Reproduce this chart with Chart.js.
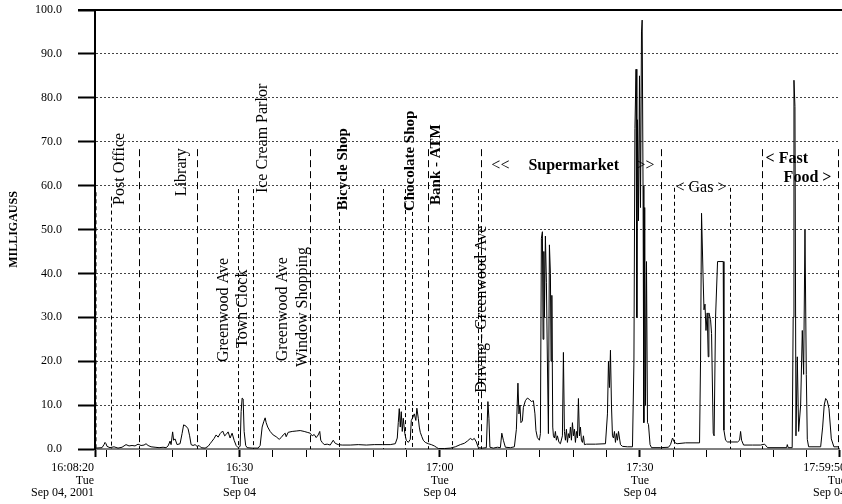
<!DOCTYPE html>
<html>
<head>
<meta charset="utf-8">
<script src="https://cdn.jsdelivr.net/npm/chart.js@4.4.0/dist/chart.umd.min.js"></script>
<style>
  html, body { margin: 0; padding: 0; background: #fff; overflow: hidden; }
  #wrap { width: 880px; height: 504px; }
</style>
</head>
<body>
<div id="wrap"><canvas id="emfChart" width="880" height="504"></canvas></div>
<script>
// Readings: seconds after 16:00:00, value in milligauss
const times = [
  500, 509, 563, 581, 590, 599, 608, 635, 671, 707, 743, 761, 779, 806, 833, 860, 887, 914, 941, 959,
  977, 1004, 1040, 1076, 1112, 1139, 1157, 1175, 1184, 1198, 1207, 1220, 1238, 1265, 1283, 1297, 1319, 1337, 1351, 1364,
  1382, 1400, 1418, 1436, 1454, 1490, 1517, 1535, 1553, 1571, 1589, 1607, 1625, 1648, 1666, 1679, 1697, 1715, 1733, 1751,
  1769, 1787, 1805, 1814, 1823, 1832, 1841, 1855, 1868, 1913, 1967, 1985, 2003, 2017, 2030, 2039, 2053, 2075, 2102, 2129,
  2156, 2174, 2192, 2210, 2219, 2237, 2273, 2309, 2345, 2381, 2408, 2435, 2453, 2471, 2489, 2507, 2521, 2530, 2543, 2561,
  2588, 2615, 2642, 2660, 2687, 2723, 2795, 2867, 2939, 3011, 3083, 3155, 3200, 3218, 3227, 3236, 3245, 3254, 3263, 3272,
  3286, 3299, 3317, 3335, 3344, 3358, 3371, 3385, 3394, 3407, 3416, 3425, 3439, 3452, 3470, 3497, 3524, 3551, 3569, 3587,
  3641, 3695, 3740, 3785, 3821, 3848, 3875, 3893, 3911, 3929, 3947, 3983, 4019, 4033, 4042, 4051, 4082, 4118, 4145, 4158,
  4172, 4190, 4235, 4271, 4289, 4303, 4312, 4321, 4330, 4343, 4352, 4370, 4388, 4406, 4424, 4442, 4456, 4465, 4478, 4496,
  4505, 4514, 4523, 4529, 4536, 4541, 4550, 4559, 4568, 4577, 4586, 4595, 4601, 4608, 4616, 4622, 4631, 4640, 4649, 4658,
  4672, 4685, 4703, 4712, 4721, 4730, 4739, 4748, 4757, 4766, 4775, 4784, 4793, 4802, 4811, 4820, 4829, 4838, 4847, 4856,
  4865, 4874, 4883, 4892, 4901, 4919, 5000, 5090, 5108, 5117, 5126, 5135, 5144, 5153, 5162, 5171, 5180, 5189, 5198, 5207,
  5216, 5225, 5243, 5288, 5333, 5346, 5355, 5365, 5372, 5378, 5387, 5396, 5405, 5414, 5420, 5428, 5435, 5443, 5450, 5459,
  5468, 5477, 5491, 5504, 5585, 5657, 5675, 5693, 5711, 5734, 5810, 5936, 5945, 5954, 5967, 5976, 5985, 5994, 6005, 6014,
  6020, 6035, 6044, 6059, 6067, 6080, 6098, 6149, 6155, 6170, 6188, 6278, 6296, 6305, 6314, 6332, 6413, 6485, 6521, 6548,
  6719, 6725, 6733, 6769, 6778, 6785, 6794, 6803, 6815, 6827, 6845, 6860, 6872, 6884, 6896, 6905, 6917, 7025, 7043, 7057,
  7070, 7084, 7100, 7121, 7144, 7190
];
const milligauss = [
  0.3, 0.2, 0.3, 1.0, 1.5, 1.2, 0.6, 0.3, 0.5, 0.2, 0.4, 0.7, 1.0, 0.7, 0.8, 0.7, 1.1, 0.8, 0.9, 1.2,
  0.8, 0.5, 0.4, 0.3, 0.4, 0.3, 0.7, 1.8, 1.0, 3.9, 2.0, 2.3, 1.0, 1.2, 3.5, 5.5, 5.2, 4.6, 3.0, 1.0,
  0.8, 1.0, 0.6, 0.8, 0.3, 0.2, 0.6, 1.2, 1.8, 2.4, 3.2, 2.7, 3.5, 4.1, 3.0, 3.3, 3.9, 2.5, 3.6, 2.0,
  0.8, 0.3, 0.6, 8.5, 11.6, 11.4, 4.0, 0.8, 0.3, 0.2, 0.2, 0.8, 5.0, 6.2, 7.1, 6.0, 5.0, 4.0, 3.2, 2.8,
  2.2, 2.6, 3.2, 3.6, 2.8, 3.8, 4.0, 4.1, 4.2, 4.0, 3.8, 3.6, 3.0, 3.3, 2.6, 3.2, 4.0, 2.0, 1.5, 1.0,
  1.1, 0.9, 2.0, 1.3, 1.0, 0.9, 0.9, 1.0, 0.9, 1.0, 1.0, 1.0, 1.2, 2.5, 6.0, 9.2, 5.0, 8.5, 4.0, 7.0,
  3.5, 2.0, 1.5, 2.2, 6.5, 7.2, 8.0, 6.5, 9.3, 7.0, 5.0, 3.8, 2.8, 2.0, 1.5, 1.2, 1.0, 0.7, 0.4, 0.1,
  0.1, 0.2, 0.5, 1.0, 1.3, 1.8, 2.4, 2.1, 2.4, 1.6, 0.3, 0.2, 0.3, 10.8, 7.0, 0.4, 0.2, 0.4, 0.3, 3.6,
  2.0, 0.4, 0.3, 0.5, 4.5, 15.0, 8.0, 10.0, 6.0, 6.4, 9.5, 11.0, 11.6, 11.3, 10.8, 11.0, 8.0, 4.2, 2.6, 2.0,
  3.5, 48.0, 49.5, 25.0, 45.0, 30.0, 48.5, 38.0, 20.0, 3.5, 46.5, 40.0, 20.0, 35.0, 5.0, 3.0, 2.5, 4.0, 2.0, 3.0,
  1.5, 1.2, 3.0, 22.0, 4.0, 2.0, 4.5, 1.5, 3.5, 2.5, 5.0, 2.0, 6.0, 3.0, 4.5, 1.5, 4.0, 2.5, 11.5, 3.0,
  5.0, 2.0, 1.5, 3.0, 1.0, 1.1, 1.1, 1.2, 8.0, 20.0, 14.0, 22.5, 10.0, 3.0, 2.5, 4.0, 1.5, 3.5, 2.0, 4.0,
  2.5, 1.0, 0.6, 0.5, 0.5, 20.0, 73.0, 86.5, 30.0, 75.0, 52.0, 85.0, 55.0, 95.0, 97.7, 60.0, 6.0, 55.0, 10.0, 42.7,
  6.0, 5.6, 1.0, 0.3, 0.3, 0.4, 1.0, 2.5, 1.5, 1.2, 1.4, 1.4, 20.0, 53.7, 40.0, 31.7, 33.0, 27.0, 31.0, 21.0,
  31.0, 29.5, 26.3, 3.6, 3.0, 30.0, 42.7, 42.7, 4.3, 2.0, 1.6, 1.6, 2.0, 4.0, 2.0, 0.9, 0.9, 0.9, 1.1, 0.3,
  0.3, 1.0, 0.3, 0.3, 30.0, 84.0, 78.0, 3.0, 21.0, 4.0, 10.0, 27.0, 17.0, 49.9, 17.0, 2.2, 0.5, 0.5, 5.0, 10.0,
  11.5, 11.0, 9.2, 2.3, 0.5, 0.5
];

// X axis: labelled ticks, everything else gets a 5 minute tick mark
const majorTicks = [500, 1800, 3600, 5400, 7190];
const majorLabels = [
  ["16:08:20", "Tue", "Sep 04, 2001"],
  ["16:30", "Tue", "Sep 04"],
  ["17:00", "Tue", "Sep 04"],
  ["17:30", "Tue", "Sep 04"],
  ["17:59:50", "Tue", "Sep 04"]
];

// Location markers (dashed verticals): time and top value
const markerTimes = [500, 641, 896, 1418, 1787, 1922, 2435, 2696, 3092, 3290, 3353, 3497, 3713, 3947, 3974, 5585, 5702, 6206, 6494, 7185];
const markerTops = [58.5, 57.5, 68.3, 68.3, 59.2, 59.2, 68.3, 54.0, 59.2, 59.2, 54.0, 68.3, 59.2, 59.2, 68.3, 68.3, 59.5, 59.5, 68.3, 68.3];

// Vertical (rotated) place names, anchored at the bottom of the text
const siteLabels = ["Post Office", "Library", "Ice Cream Parlor", "Greenwood Ave", "Town Clock", "Greenwood Ave", "Window Shopping", "Bicycle Shop", "Chocolate Shop", "Bank - ATM", "Driving - Greenwood Ave"];
const siteTimes = [725, 1283, 2012, 1661, 1832, 2192, 2372, 2732, 3335, 3569, 3974];
const siteValues = [55.6, 57.6, 58.3, 19.8, 23.0, 20.0, 18.7, 54.4, 54.2, 55.6, 12.8];

// Horizontal area names, anchored at the left of the text
const areaLabels = ["<<", "Supermarket", ">>", "< Gas >", "< Fast", "Food >"];
const areaTimes = [4064, 4397, 5369, 5720, 6530, 6692];
const areaValues = [64.5, 64.5, 64.5, 59.5, 66.1, 61.7];

const boldSites = ["Bicycle Shop", "Chocolate Shop", "Bank - ATM"];
const boldAreas = ["Supermarket", "< Fast", "Food >"];
const SERIF = "'Liberation Serif', 'DejaVu Serif', serif";

// 5 minute tick marks plus the start and end times
const xTickValues = [500];
for (let t = 600; t < 7190; t += 300) xTickValues.push(t);
xTickValues.push(7190);

// Markers & labels plugin
const markerPlugin = {
  id: "markers",
  beforeDatasetsDraw(chart) {
    const { ctx, scales: { x, y } } = chart;
    const y0 = y.getPixelForValue(0);
    ctx.save();
    ctx.strokeStyle = "#000";
    markerTimes.forEach((t, i) => {
      const px = Math.round(x.getPixelForValue(t)) + 0.5;
      ctx.lineWidth = i === 0 ? 2 : 1;
      ctx.setLineDash(markerTops[i] > 65 ? [7, 4] : [4, 3]);
      ctx.beginPath();
      ctx.moveTo(px, y.getPixelForValue(markerTops[i]));
      ctx.lineTo(px, y0);
      ctx.stroke();
    });
    ctx.setLineDash([]);

    ctx.fillStyle = "#000";
    ctx.textBaseline = "middle";
    ctx.textAlign = "left";
    siteLabels.forEach((label, i) => {
      ctx.save();
      ctx.translate(x.getPixelForValue(siteTimes[i]), y.getPixelForValue(siteValues[i]));
      ctx.rotate(-Math.PI / 2);
      ctx.font = (boldSites.includes(label) ? "bold 15px " : "16px ") + SERIF;
      ctx.fillText(label, 0, 0);
      ctx.restore();
    });
    areaLabels.forEach((label, i) => {
      ctx.font = (boldAreas.includes(label) ? "bold 16px " : "16px ") + SERIF;
      ctx.fillText(label, x.getPixelForValue(areaTimes[i]), y.getPixelForValue(areaValues[i]));
    });
    ctx.restore();
  },
  afterDraw(chart) {
    const { ctx, chartArea, scales: { x, y } } = chart;
    ctx.save();
    // Solid frame line at 100.0
    const py = Math.round(y.getPixelForValue(100));
    ctx.strokeStyle = "#000";
    ctx.lineWidth = 2;
    ctx.beginPath();
    ctx.moveTo(chartArea.left - 17, py);
    ctx.lineTo(chart.width, py);
    ctx.stroke();

    // Time labels: first and last are right aligned, the rest centred
    ctx.fillStyle = "#000";
    ctx.font = "12px " + SERIF;
    ctx.textBaseline = "middle";
    const last = majorTicks.length - 1;
    majorTicks.forEach((t, i) => {
      let px = x.getPixelForValue(t);
      ctx.textAlign = i === 0 || i === last ? "right" : "center";
      if (i === 0) px -= 1;
      if (i === last) px += 7;
      majorLabels[i].forEach((line, j) => {
        ctx.fillText(line, px, x.top + 19 + j * 12.5);
      });
    });
    ctx.restore();
  }
};

// Chart.js Init
const ctx = document.getElementById("emfChart").getContext("2d");
new Chart(ctx, {
  type: "line",
  data: {
    datasets: [
      {
        data: times.map((t, i) => ({ x: t, y: milligauss[i] })),
        borderColor: "#000",
        borderWidth: 1,
        pointRadius: 0,
        tension: 0,
        fill: false
      }
    ]
  },
  options: {
    responsive: false,
    animation: false,
    layout: { padding: { top: 0, right: 41, left: 0, bottom: 0 } },
    plugins: { legend: { display: false }, tooltip: { enabled: false } },
    scales: {
      x: {
        type: "linear",
        min: 500,
        max: 7190,
        afterBuildTicks: (scale) => {
          scale.ticks = xTickValues.map((v) => ({ value: v }));
        },
        afterFit: (scale) => {
          scale.height = 55;
        },
        grid: {
          drawOnChartArea: false,
          tickLength: 8,
          tickColor: "#000",
          tickWidth: (c) => (majorTicks.includes(c.tick && c.tick.value) ? 2 : 1)
        },
        border: { color: "#808080", width: 2 },
        ticks: {
          autoSkip: false,
          maxRotation: 0,
          minRotation: 0,
          callback: () => ""
        }
      },
      y: {
        min: 0,
        max: 100,
        afterFit: (scale) => {
          scale.width = 95;
          scale.paddingTop = 10;
          scale.paddingBottom = 7;
        },
        grid: {
          color: (c) => (c.tick && (c.tick.value === 0 || c.tick.value === 100) ? "rgba(0,0,0,0)" : "#444"),
          lineWidth: 1,
          tickColor: "#000",
          tickWidth: 2,
          tickLength: 17,
          tickBorderDash: []
        },
        border: { color: "#000", width: 2, dash: [2, 2] },
        ticks: {
          stepSize: 10,
          padding: 16,
          color: "#000",
          font: { family: SERIF, size: 12 },
          callback: (value) => value.toFixed(1)
        },
        title: {
          display: true,
          text: "MILLIGAUSS",
          color: "#000",
          padding: { top: 7, bottom: 0 },
          font: { family: SERIF, size: 12, weight: "bold" }
        }
      }
    }
  },
  plugins: [markerPlugin]
});
</script>
</body>
</html>
